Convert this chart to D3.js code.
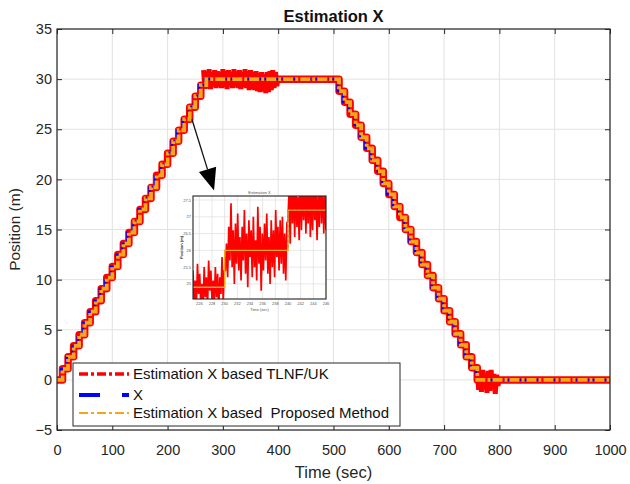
<!DOCTYPE html>
<html>
<head>
<meta charset="utf-8">
<script src="https://cdn.jsdelivr.net/npm/d3@7"></script>
<style>
  body { margin: 0; background: #fff; }
  svg { font-family: "Liberation Sans", Arial, sans-serif; }
</style>
</head>
<body>
<script>
'use strict';

// time axis, one sample per 10 s
const times = d3.range(0, 1001, 10);

// true position X (m), staircase trajectory
const positionX = [
  0, 1.1, 2.3, 3.4, 4.5, 5.7, 6.8, 7.9, 9.1, 10.2,
  11.3, 12.5, 13.6, 14.7, 15.8, 17.0, 18.1, 19.2, 20.4, 21.5,
  22.6, 23.8, 24.9, 26.0, 27.2, 28.3, 29.4,
  30, 30, 30, 30, 30, 30, 30, 30, 30, 30, 30, 30,
  30, 30, 30, 30, 30, 30, 30, 30, 30, 30, 30, 30,
  28.8, 27.7, 26.5, 25.4, 24.2, 23.1, 21.9, 20.8, 19.6, 18.5,
  17.3, 16.2, 15.0, 13.8, 12.7, 11.5, 10.4, 9.2, 8.1, 6.9,
  5.8, 4.6, 3.5, 2.3, 1.2,
  0, 0, 0, 0, 0, 0, 0, 0, 0, 0, 0, 0, 0,
  0, 0, 0, 0, 0, 0, 0, 0, 0, 0, 0, 0
];

// TLNF/UK estimate: noisy parts (sampled every 2.5 s)
const tlnfFlatT = d3.range(265, 401, 2.5);
const tlnfFlat = [
  30.9, 29.1, 30.8, 29.2, 31.0, 29.0, 30.7, 29.3, 30.9, 29.1,
  30.8, 29.2, 30.7, 29.1, 31.0, 29.2, 30.8, 29.0, 30.9, 29.3,
  30.7, 29.1, 31.0, 29.2, 30.8, 29.1, 30.9, 29.0, 30.7, 29.2,
  31.0, 29.1, 30.8, 28.9, 30.9, 29.0, 30.7, 28.9, 30.8, 28.8,
  30.6, 28.7, 30.7, 28.8, 30.5, 28.6, 30.7, 28.7, 30.8, 28.9,
  30.9, 29.1, 30.7, 29.3, 30.3
];
const tlnfDropT = d3.range(760, 801, 2.5);
const tlnfDrop = [
  0.9, -1.0, 0.8, -1.2, 1.0, -0.9, 0.7, -1.3, 0.9,
  -1.1, 1.0, -0.8, 0.6, -1.4, 0.5, -0.6, 0.3
];

// zoomed inset: deviation of TLNF/UK estimate around X
const insetNoise = [
  0.5, -0.4, 0.2, -0.6, 0.7, -0.2, 0.4, -0.5, 0.1, -0.7, 0.6, -0.3, 0.3, -0.6, 0.8, -0.1, 0.5, -0.4, 0.2, -0.5,
  0.6, -0.3, 0.4, -0.7, 0.3, -0.2, 0.9, -0.4, 0.5, -0.6, 0.2, -0.8, 0.7, -0.3, 1.4, -0.5, 0.6, -1.0, 0.8, -0.4,
  1.1, -0.6, 0.4, -0.9, 0.7, -0.3, 1.2, -0.7, 0.5, -1.1, 0.9, -0.2, 0.6, -0.8, 1.0, -0.5, 0.3, -0.9, 1.3, -0.4,
  0.7, -1.2, 0.5, -0.6, 0.8, -0.3, 1.1, -0.7, 0.4, -1.0, 0.9, -0.5, 0.6, -0.8, 1.2, -0.2, 0.7, -0.6, 0.9, -0.4,
  1.0, -0.7, 0.5, -0.9, 0.8, -0.3, 0.6, -1.0, 1.1, -0.4, 0.7, -0.8, 0.9, -0.5, 0.4, -0.9, 1.2, -0.6, 0.8, -0.3,
  0.9, -0.7, 0.6, -0.4, 1.0, -0.8, 0.5, -0.6, 0.9, -0.3, 0.7, -0.9, 0.6, -0.5, 1.1, -0.4, 0.8, -0.7, 0.5, -0.6
];
const insetTime = [225, 246];
const insetPos = [24.55, 27.62];
const insetXTicks = [226, 228, 230, 232, 234, 236, 238, 240, 242, 244, 246];
const insetYTicks = [25, 25.5, 26, 26.5, 27, 27.5];

// arrow from the curve to the inset, data units [t, m]
const arrowFrom = [244, 26.0];
const arrowTo = [284, 18.9];

const xTicks = [0, 100, 200, 300, 400, 500, 600, 700, 800, 900, 1000];
const yTicks = [-5, 0, 5, 10, 15, 20, 25, 30, 35];

const legendLabels = [
  "Estimation X based TLNF/UK",
  "X",
  "Estimation X based  Proposed Method"
];

// ---- layout
const W = 630, H = 484;
const P = { left: 57, right: 610, top: 29, bottom: 430 };
const RED = "#ff0000", BLUE = "#0000ff", ORANGE = "#f2a71b";
const INK = "#262626";

const svg = d3.select("body").append("svg")
  .attr("width", W)
  .attr("height", H);

const x = d3.scaleLinear().domain([0, 1000]).range([P.left, P.right]);
const y = d3.scaleLinear().domain([-5, 35]).range([P.bottom, P.top]);

// grid
const grid = svg.append("g").attr("stroke", "#e2e2e2").attr("stroke-width", 1);
grid.selectAll(".gx").data(xTicks).join("line")
  .attr("x1", (d) => x(d)).attr("x2", (d) => x(d))
  .attr("y1", P.top).attr("y2", P.bottom);
grid.selectAll(".gy").data(yTicks).join("line")
  .attr("x1", P.left).attr("x2", P.right)
  .attr("y1", (d) => y(d)).attr("y2", (d) => y(d));

// axes, ticks pointing inward on all four sides
function styleAxis(g) {
  g.select(".domain").remove();
  g.selectAll("line").attr("stroke", INK);
  g.selectAll("text").attr("fill", INK).attr("font-size", 14.5).attr("font-family", null);
}
svg.append("g").attr("transform", `translate(0,${P.bottom})`)
  .call(d3.axisBottom(x).tickValues(xTicks).tickFormat(d3.format("d"))
    .tickSizeInner(-5).tickSizeOuter(0).tickPadding(15))
  .call(styleAxis);
svg.append("g").attr("transform", `translate(${P.left},0)`)
  .call(d3.axisLeft(y).tickValues(yTicks).tickFormat(d3.format("d"))
    .tickSizeInner(-5).tickSizeOuter(0).tickPadding(5))
  .call(styleAxis);
svg.append("g").attr("transform", `translate(0,${P.top})`)
  .call(d3.axisTop(x).tickValues(xTicks).tickSizeInner(-5).tickSizeOuter(0).tickFormat(""))
  .call(styleAxis);
svg.append("g").attr("transform", `translate(${P.right},0)`)
  .call(d3.axisRight(y).tickValues(yTicks).tickSizeInner(-5).tickSizeOuter(0).tickFormat(""))
  .call(styleAxis);

// ---- data
svg.append("clipPath").attr("id", "plot-clip")
  .append("rect")
  .attr("x", P.left).attr("y", P.top)
  .attr("width", P.right - P.left).attr("height", P.bottom - P.top);

const plot = svg.append("g").attr("clip-path", "url(#plot-clip)");
const pts = times.map((t, i) => [t, positionX[i]]);

const stepLine = d3.line().x((d) => x(d[0])).y((d) => y(d[1])).curve(d3.curveStepAfter);
const plainLine = d3.line().x((d) => x(d[0])).y((d) => y(d[1]));

// TLNF/UK estimate (red)
plot.append("path")
  .attr("d", stepLine(pts))
  .attr("fill", "none").attr("stroke", RED).attr("stroke-width", 7.5)
  .attr("stroke-linejoin", "round");
plot.append("path")
  .attr("d", plainLine(tlnfFlatT.map((t, i) => [t, tlnfFlat[i]])))
  .attr("fill", "none").attr("stroke", RED).attr("stroke-width", 5);
plot.append("path")
  .attr("d", plainLine(tlnfDropT.map((t, i) => [t, tlnfDrop[i]])))
  .attr("fill", "none").attr("stroke", RED).attr("stroke-width", 5);

// X (blue)
plot.append("path")
  .attr("d", stepLine(pts))
  .attr("transform", "translate(-1.5,0)")
  .attr("fill", "none").attr("stroke", BLUE).attr("stroke-width", 2.2)
  .attr("stroke-dasharray", "10,4");

// proposed method (orange)
plot.append("path")
  .attr("d", stepLine(pts))
  .attr("fill", "none").attr("stroke", ORANGE).attr("stroke-width", 3.8)
  .attr("stroke-dasharray", "10,2,3,2");

// frame
svg.append("rect")
  .attr("x", P.left).attr("y", P.top)
  .attr("width", P.right - P.left).attr("height", P.bottom - P.top)
  .attr("fill", "none").attr("stroke", INK).attr("stroke-width", 1.2);

// ---- arrow
const a0 = [x(arrowFrom[0]), y(arrowFrom[1])];
const a1 = [x(arrowTo[0]), y(arrowTo[1])];
const len = Math.hypot(a1[0] - a0[0], a1[1] - a0[1]);
const ux = (a1[0] - a0[0]) / len, uy = (a1[1] - a0[1]) / len;
const headL = 22, headW = 9;
const bc = [a1[0] - ux * headL, a1[1] - uy * headL];
svg.append("line")
  .attr("x1", a0[0]).attr("y1", a0[1]).attr("x2", bc[0]).attr("y2", bc[1])
  .attr("stroke", "#111").attr("stroke-width", 1.3);
svg.append("path")
  .attr("d", `M${a1[0]},${a1[1]}L${bc[0] - uy * headW},${bc[1] + ux * headW}L${bc[0] + uy * headW},${bc[1] - ux * headW}Z`)
  .attr("fill", "#000");

// ---- inset
const IN = { x0: 193, x1: 326, y0: 196, y1: 299 };
const ix = d3.scaleLinear().domain(insetTime).range([IN.x0, IN.x1]);
const iy = d3.scaleLinear().domain(insetPos).range([IN.y1, IN.y0]);
const inset = svg.append("g");

inset.append("rect")
  .attr("x", IN.x0).attr("y", IN.y0)
  .attr("width", IN.x1 - IN.x0).attr("height", IN.y1 - IN.y0)
  .attr("fill", "#fff");
inset.append("clipPath").attr("id", "inset-clip")
  .append("rect")
  .attr("x", IN.x0).attr("y", IN.y0)
  .attr("width", IN.x1 - IN.x0).attr("height", IN.y1 - IN.y0);

const ig = inset.append("g").attr("stroke", "#d8d8d8").attr("stroke-width", 0.6);
ig.selectAll(".ix").data(insetXTicks).join("line")
  .attr("x1", (d) => ix(d)).attr("x2", (d) => ix(d)).attr("y1", IN.y0).attr("y2", IN.y1);
ig.selectAll(".iy").data(insetYTicks).join("line")
  .attr("x1", IN.x0).attr("x2", IN.x1).attr("y1", (d) => iy(d)).attr("y2", (d) => iy(d));

const levelAt = (t) => positionX[d3.bisectRight(times, t) - 1];
const insetT = insetNoise.map((_, i) => insetTime[0] + i * (insetTime[1] - insetTime[0]) / (insetNoise.length - 1));

const inPlot = inset.append("g").attr("clip-path", "url(#inset-clip)");
inPlot.append("path")
  .attr("d", d3.line().x((d) => ix(d[0])).y((d) => iy(d[1]))(insetT.map((t, i) => [t, levelAt(t) + insetNoise[i]])))
  .attr("fill", "none").attr("stroke", RED).attr("stroke-width", 1.7);
const inStep = d3.line().x((d) => ix(d[0])).y((d) => iy(d[1])).curve(d3.curveStepAfter);
inPlot.append("path")
  .attr("d", inStep(pts))
  .attr("fill", "none").attr("stroke", BLUE).attr("stroke-width", 1)
  .attr("stroke-dasharray", "3,2");
inPlot.append("path")
  .attr("d", inStep(pts))
  .attr("fill", "none").attr("stroke", ORANGE).attr("stroke-width", 1.4);

inset.append("rect")
  .attr("x", IN.x0).attr("y", IN.y0)
  .attr("width", IN.x1 - IN.x0).attr("height", IN.y1 - IN.y0)
  .attr("fill", "none").attr("stroke", "#222").attr("stroke-width", 1.1);

const ilab = inset.append("g").attr("font-size", 4).attr("fill", "#555");
ilab.selectAll(".lx").data(insetXTicks).join("text")
  .attr("x", (d) => ix(d)).attr("y", IN.y1 + 5.5)
  .attr("text-anchor", "middle").text((d) => d);
ilab.selectAll(".ly").data(insetYTicks).join("text")
  .attr("x", IN.x0 - 2).attr("y", (d) => iy(d) + 1.5)
  .attr("text-anchor", "end").text((d) => d);
ilab.append("text")
  .attr("x", (IN.x0 + IN.x1) / 2).attr("y", IN.y0 - 2)
  .attr("text-anchor", "middle").text("Estimation X");
ilab.append("text")
  .attr("x", (IN.x0 + IN.x1) / 2).attr("y", IN.y1 + 12)
  .attr("text-anchor", "middle").text("Time (sec)");
ilab.append("text")
  .attr("transform", `translate(${IN.x0 - 10},${(IN.y0 + IN.y1) / 2}) rotate(-90)`)
  .attr("text-anchor", "middle").attr("font-weight", "bold").attr("fill", "#222")
  .text("Position (m)");

// ---- legend
const LG = { x: 73, y: 363, w: 327, h: 63 };
const legend = svg.append("g");
legend.append("rect")
  .attr("x", LG.x).attr("y", LG.y).attr("width", LG.w).attr("height", LG.h)
  .attr("fill", "#fff").attr("stroke", INK).attr("stroke-width", 1);

const legendStyles = [
  { color: RED, width: 3.5, dash: "9,3,3,3" },
  { color: BLUE, width: 4, dash: "21,22" },
  { color: ORANGE, width: 2.2, dash: "9,3,3,3" }
];
const rowY = [374, 395, 413];
legendLabels.forEach((label, i) => {
  legend.append("line")
    .attr("x1", 79).attr("x2", 129)
    .attr("y1", rowY[i]).attr("y2", rowY[i])
    .attr("stroke", legendStyles[i].color)
    .attr("stroke-width", legendStyles[i].width)
    .attr("stroke-dasharray", legendStyles[i].dash);
  legend.append("text")
    .attr("x", 133).attr("y", rowY[i] + 5)
    .attr("font-size", 15).attr("fill", "#111")
    .style("white-space", "pre")
    .text(label);
});

// ---- titles
svg.append("text")
  .attr("x", (P.left + P.right) / 2).attr("y", 22)
  .attr("text-anchor", "middle")
  .attr("font-size", 16.5).attr("font-weight", "bold").attr("fill", "#111")
  .text("Estimation X");
svg.append("text")
  .attr("x", (P.left + P.right) / 2).attr("y", 478)
  .attr("text-anchor", "middle")
  .attr("font-size", 16.5).attr("fill", INK)
  .text("Time (sec)");
svg.append("text")
  .attr("transform", `translate(20,${(P.top + P.bottom) / 2}) rotate(-90)`)
  .attr("text-anchor", "middle")
  .attr("font-size", 15.5).attr("fill", INK)
  .text("Position (m)");
</script>
</body>
</html>
